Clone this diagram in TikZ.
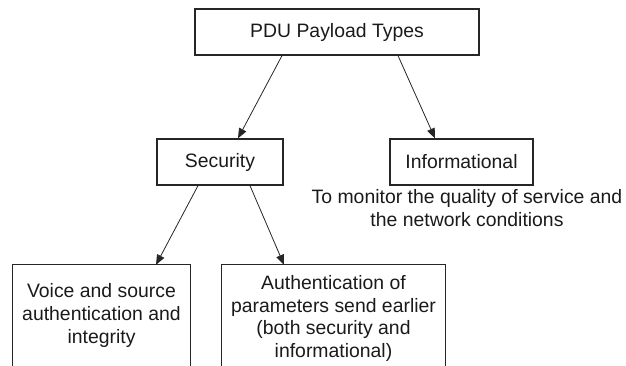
\documentclass[tikz,border=0pt]{standalone}
\usepackage{fontspec}
\setmainfont{Liberation Sans}
\usepackage{tikz}
\usetikzlibrary{arrows.meta, positioning}
\definecolor{pduline}{HTML}{262626}
\definecolor{pdutext}{HTML}{1A1A1A}
\begin{document}
\begin{tikzpicture}[x=1pt, y=-1pt,
    pdubox/.style={draw=pduline, line width=1.3pt, inner sep=0pt,
      text=pdutext, font=\fontsize{19.4}{23}\selectfont, align=center},
    pdutxt/.style={draw=none, inner sep=0pt, text=pdutext,
      font=\fontsize{19.4}{23}\selectfont, align=center},
    pduarrow/.style={draw=pduline, line width=0.8pt,
      -{Triangle[length=10pt, width=8pt]}}]
    \useasboundingbox (0,0) rectangle (626,365);
    \clip (0,0) rectangle (626,365);
    % Root
    \node[pdubox, minimum width=284pt, minimum height=46pt] (root)
      at (337,32) {PDU Payload Types};
    % Second level
    \node[pdubox, minimum width=126pt, minimum height=46pt] (sec)
      at (220,162) {Security};
    \node[pdubox, minimum width=143pt, minimum height=46pt] (info)
      at (461.5,162) {Informational};
    \node[pdutxt] (infonote) at (467,208.5)
      {To monitor the quality of service and\\the network conditions};
    % Third level (boxes run off the page bottom)
    \node[pdutxt, minimum width=177pt, minimum height=100pt] (voice)
      at (101.5,315) {Voice and source\\authentication and\\integrity};
    \node[pdutxt, minimum width=223pt, minimum height=107pt,
      font=\fontsize{19.4}{22.4}\selectfont] (params)
      at (333.5,318.5)
      {Authentication of\\parameters send earlier\\(both security and\\informational)};
    \draw[pduline, line width=1.3pt]
      ([yshift=-20pt]voice.south west) -- (voice.north west)
      -- (voice.north east) -- ([yshift=-20pt]voice.south east);
    \draw[pduline, line width=1.3pt]
      ([yshift=-20pt]params.south west) -- (params.north west)
      -- (params.north east) -- ([yshift=-20pt]params.south east);
    % Connectors
    \draw[pduarrow] ([xshift=-55pt]root.south) -- ([xshift=18pt]sec.north);
    \draw[pduarrow] ([xshift=61pt]root.south) -- ([xshift=-26.5pt]info.north);
    \draw[pduarrow] ([xshift=-22pt]sec.south) -- ([xshift=54.5pt]voice.north);
    \draw[pduarrow] ([xshift=30pt]sec.south) -- ([xshift=-49.5pt]params.north);
  \end{tikzpicture}
\end{document}
